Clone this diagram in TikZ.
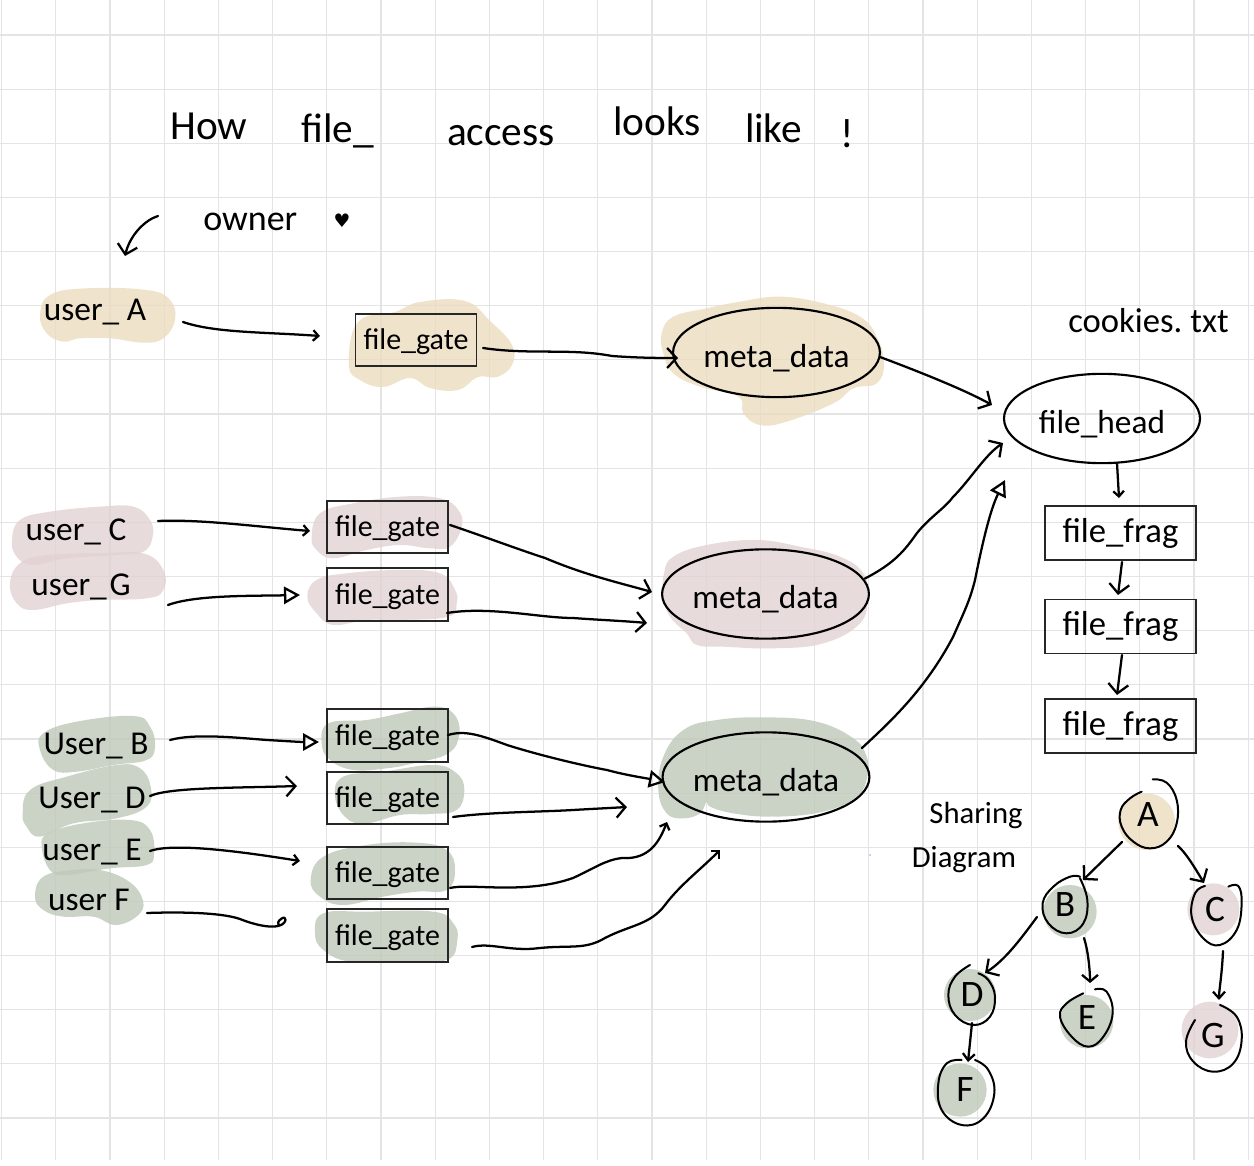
\documentclass[tikz,border=0pt]{standalone}
\usepackage{fontspec}
\setmainfont{Carlito}
\newfontfamily\symfont{DejaVu Sans}
\usetikzlibrary{arrows.meta,calc,shapes.geometric}
\newcommand\fsz[1]{\fontsize{#1}{#1}\selectfont}
\definecolor{tanb}{RGB}{235,220,192}
\definecolor{pinkb}{RGB}{226,210,211}
\definecolor{greenb}{RGB}{191,201,186}
\definecolor{gridc}{RGB}{228,228,228}
\tikzset{
  tanblob/.style={fill=tanb,fill opacity=.8},
  pinkblob/.style={fill=pinkb,fill opacity=.8},
  greenblob/.style={fill=greenb,fill opacity=.8},
  gridline/.style={draw=gridc,line width=.9pt},
  txt/.style={inner sep=0pt,text=black},
  userlabel/.style={txt,font=\fsz{25}},
  gatebox/.style={draw=black!85,line width=1.3pt,rectangle,minimum width=90.75pt,minimum height=39.4pt,inner sep=0pt,text height=20pt,text depth=5.5pt,font=\fsz{22.5}},
  fragbox/.style={draw=black!85,line width=1.4pt,rectangle,minimum width=113.25pt,minimum height=40.5pt,inner sep=0pt,font=\fsz{26}},
  metaoval/.style={draw=black,line width=1.6pt,ellipse,minimum width=151pt,minimum height=67pt,inner sep=0pt,text height=25pt,text depth=3pt,font=\fsz{25}},
  treeletter/.style={txt,font=\fsz{28}},
  hand/.style={draw=black,line width=1.7pt,line cap=round,line join=round},
  ring/.style={hand,line width=1.5pt},
  barb/.style={hand,-{Straight Barb[length=7pt,width=15pt]}},
  tinybarb/.style={hand,-{Straight Barb[length=4pt,width=8pt]}},
  tri/.style={hand,-{Triangle[open,length=12pt,width=13pt]}},
}
\newcommand\blobz[2]{\path[#1] plot[smooth cycle,tension=.7] coordinates {#2};}
\newcommand\ringz[1]{\draw[ring] plot[smooth,tension=.7] coordinates {#1};}
\begin{document}
\begin{tikzpicture}[x=.75pt,y=-.75pt]
\useasboundingbox (0,0) rectangle (1254,1166);
\fill[white] (0,0) rectangle (1254,1166);
% grid
\foreach \k in {0,...,23} {\draw[gridline] ({1.5+54.2*\k},0) -- ({1.5+54.2*\k},1160);}
\foreach \k in {0,...,20} {\draw[gridline] (0,{35+54.15*\k}) -- (1254,{35+54.15*\k});}
\fill[blue!40] (870,855) circle (.8);
% blobs, real coordinates
\blobz{tanblob}{(349,365) (358,322) (395,312) (420,302) (465,301) (490,321) (512,345) (512,365) (497,377) (478,377) (458,390) (430,388) (410,378) (383,387) (360,380)}
\begin{scope}[x=.25pt,y=-.25pt]
\blobz{tanblob}{(120,945) (150,885) (260,865) (440,870) (510,900) (525,960) (490,1015) (430,1028) (330,1015) (240,1015) (190,1025) (140,1000)}
\end{scope}
\begin{scope}[shift={(440,280)},x=.25pt,y=-.25pt]
\blobz{tanblob}{(665,160) (700,110) (800,85) (900,65) (1020,50) (1150,70) (1260,110) (1310,170) (1332,250) (1310,310) (1240,325) (1180,370) (1040,425) (960,435) (910,400) (895,350) (780,320) (700,280) (670,220)}
\blobz{pinkblob}{(672,880) (700,830) (800,795) (950,780) (1080,800) (1200,830) (1270,880) (1282,950) (1260,1030) (1150,1090) (1000,1105) (850,1100) (770,1095) (740,1060) (690,1010) (670,950)}
\end{scope}
\begin{scope}[shift={(0,470)},x=.25pt,y=-.25pt]
\blobz{pinkblob}{(36,210) (60,150) (150,125) (300,110) (400,110) (450,150) (458,200) (430,245) (350,255) (200,265) (100,285) (50,260)}
\blobz{pinkblob}{(30,340) (60,280) (140,255) (300,250) (430,250) (490,300) (490,360) (440,385) (300,390) (200,400) (100,420) (50,400)}
\blobz{pinkblob}{(935,200) (960,130) (1060,100) (1200,80) (1320,85) (1375,120) (1385,170) (1350,230) (1290,235) (1200,225) (1100,240) (1000,265) (950,240)}
\blobz{pinkblob}{(922,380) (950,330) (1040,310) (1200,300) (1320,310) (1365,360) (1370,400) (1345,440) (1200,450) (1100,450) (1000,465) (950,430)}
\end{scope}
\begin{scope}[shift={(0,690)},x=.25pt,y=-.25pt]
\blobz{greenblob}{(120,180) (130,130) (230,95) (400,78) (450,110) (465,170) (440,210) (340,225) (230,245) (160,240)}
\blobz{greenblob}{(68,370) (90,300) (200,260) (350,225) (420,235) (452,290) (440,350) (350,385) (220,400) (120,440) (80,410)}
\blobz{greenblob}{(125,470) (145,430) (250,400) (390,390) (450,420) (462,490) (440,525) (330,535) (200,555) (150,540)}
\blobz{greenblob}{(105,620) (130,560) (220,540) (300,540) (380,570) (425,620) (420,670) (350,705) (280,680) (190,680) (130,660)}
\blobz{greenblob}{(965,160) (985,100) (1100,90) (1200,70) (1300,50) (1360,70) (1378,130) (1345,190) (1240,220) (1160,235) (1060,240) (990,210)}
\blobz{greenblob}{(1005,320) (1030,260) (1150,245) (1300,225) (1370,250) (1393,300) (1370,360) (1290,372) (1200,375) (1100,400) (1040,385)}
\blobz{greenblob}{(932,570) (970,500) (1100,465) (1250,458) (1340,480) (1365,540) (1340,600) (1250,605) (1150,620) (1030,645) (960,620)}
\blobz{greenblob}{(945,730) (970,670) (1100,665) (1300,665) (1360,700) (1372,750) (1340,810) (1200,815) (1050,815) (970,780)}
\end{scope}
\begin{scope}[shift={(440,680)},x=.25pt,y=-.25pt]
\blobz{greenblob}{(655,330) (670,230) (730,150) (830,120) (980,112) (1130,125) (1240,175) (1280,230) (1282,290) (1250,350) (1150,395) (1000,410) (880,400) (810,380) (800,365) (780,400) (730,415) (680,400)}
\end{scope}
\begin{scope}[shift={(880,760)},x=.25pt,y=-.25pt]
\fill[tanblob] (800,185) circle (85);
\fill[greenblob] (570,455) circle (80);
\fill[pinkblob] (1000,448) circle (78);
\fill[greenblob] (270,705) circle (78);
\fill[greenblob] (620,785) circle (80);
\fill[greenblob] (240,990) circle (80);
\fill[pinkblob] (990,810) circle (85);
\ringz{(818,58) (860,68) (890,120) (890,190) (860,245) (810,265) (760,245) (725,200) (722,150) (750,115) (785,95)}
\ringz{(600,350) (570,350) (520,380) (488,430) (505,490) (560,520) (610,490) (622,420) (600,355)}
\ringz{(1045,380) (1075,378) (1085,430) (1070,510) (1020,555) (970,535) (935,470) (945,400) (975,378)}
\ringz{(270,615) (225,650) (205,705) (225,765) (280,795) (330,770) (345,710) (325,660) (295,640)}
\ringz{(645,688) (680,695) (698,760) (670,830) (625,860) (575,830) (540,770) (560,730) (610,700)}
\ringz{(245,900) (200,910) (175,970) (185,1050) (245,1095) (310,1075) (343,1000) (325,930) (285,900)}
\ringz{(1020,735) (1070,770) (1085,840) (1060,910) (1000,935) (940,905) (918,845) (945,780)}
\end{scope}
% title and notes
\node[txt,anchor=base west,font=\fsz{31}] (title) at (170,140) {How\hspace{40.5pt}\raisebox{-2pt}{file\_}\hspace{55pt}\raisebox{-4pt}{access}\hspace{44pt}\raisebox{3pt}{looks}\hspace{33pt}\raisebox{-2pt}{like}\hspace{29pt}\raisebox{-6pt}{!}};
\node[txt,anchor=base west,font=\fsz{27}] (owner) at (203,231) {owner};
\node[txt,font=\symfont\fsz{14}] (heart) at (342,221) {♥};
\node[txt,anchor=base west,font=\fsz{26}] (cookies) at (1068,333) {cookies.\hspace{6pt}txt};
\node[txt,font=\fsz{23}] (sharing) at (976,815) {Sharing};
\node[txt,font=\fsz{23}] (diagram) at (964,860) {Diagram};
% users
\node[userlabel] (uA) at (95,312) {user\_ A};
\node[userlabel] (uC) at (76,532) {user\_ C};
\node[userlabel] (uG) at (81,587) {user\_\hspace{2pt}G};
\node[userlabel] (uB) at (96,746) {User\_ B};
\node[userlabel] (uD) at (92,800) {User\_ D};
\node[userlabel] (uE) at (92,852) {user\_ E};
\node[userlabel] (uF) at (89,900) {user F};
% gates
\node[gatebox] (gA) at (416,340) {file\_gate};
\node[gatebox] (gC) at (387.5,527) {file\_gate};
\node[gatebox] (gG) at (387.5,594.5) {file\_gate};
\node[gatebox] (gB) at (387.5,735.5) {file\_gate};
\node[gatebox] (gD) at (387.5,798) {file\_gate};
\node[gatebox] (gE) at (387.5,873) {file\_gate};
\node[gatebox] (gF) at (387.5,935.5) {file\_gate};
% meta
\node[metaoval] (mA) at (776.5,352.5) {meta\_data};
\node[metaoval] (mC) at (765.5,594) {meta\_data};
\node[metaoval] (mB) at (766,777) {meta\_data};
\node[metaoval,minimum width=147pt] (head) at (1102,418.5) {file\_head};
\node[fragbox] (f1) at (1120.5,533) {file\_frag};
\node[fragbox] (f2) at (1120.5,626.5) {file\_frag};
\node[fragbox] (f3) at (1120.5,726) {file\_frag};
% tree letters
\node[treeletter] (TA) at (1148,815) {A};
\node[treeletter] (TB) at (1065,905) {B};
\node[treeletter] (TC) at (1215,910) {C};
\node[treeletter] (TD) at (972,995) {D};
\node[treeletter] (TE) at (1087,1018) {E};
\node[treeletter] (TF) at (965,1090) {F};
\node[treeletter] (TG) at (1213,1036) {G};
% owner arrow
\coordinate (oa) at (158,216);
\coordinate (ob) at (125,256);
\draw[barb] (oa) .. controls (145,220) and (130,235) .. (ob);
% connectors
\draw[tinybarb] ($(uA)+(88,10)$) .. controls (215,333) and (265,332) .. ($(gA)+(-96,-4)$);
\draw[barb] ($(gA)+(67,8)$) .. controls (530,355) and (570,348) .. (612,356) .. controls (640,358) and (660,358) .. ($(mA)+(-98.5,5.5)$);
\draw[barb] ($(mA)+(103.5,4.5)$) .. controls (920,372) and (965,390) .. ($(head)+(-110,-13.5)$);
\draw[tinybarb] ($(uC)+(82,-11)$) .. controls (200,519) and (260,527) .. ($(gC)+(-77.5,4)$);
\draw[tri] ($(uG)+(87,18)$) .. controls (195,595) and (250,596) .. ($(gG)+(-87.5,.5)$);
\draw[barb] ($(gC)+(62.5,-2)$) .. controls (480,535) and (520,550) .. (545,558) .. controls (585,575) and (620,583) .. ($(mC)+(-113.5,-2)$);
\draw[barb] ($(gG)+(59.5,18.5)$) .. controls (490,606) and (540,618) .. (573,618) .. controls (600,620) and (625,621) .. ($(mC)+(-118.5,29)$);
\draw[barb] ($(mC)+(99.5,-15.5)$) .. controls (895,563) and (905,550) .. (917,533) .. controls (930,517) and (945,508) .. (953,497) .. controls (970,480) and (985,455) .. ($(head)+(-99,24.5)$);
\draw[tri] ($(mB)+(96,-29)$) .. controls (890,722) and (925,690) .. (953,637) .. controls (965,610) and (970,600) .. (975,580) .. controls (982,545) and (990,510) .. ($(head)+(-97,61.5)$);
\draw[tri] ($(uB)+(74,-6)$) .. controls (195,733) and (240,738) .. (267,740) .. controls (285,741) and (300,742) .. ($(gB)+(-68.5,6.5)$);
\draw[barb] ($(uD)+(58,-4)$) .. controls (170,787) and (240,788) .. ($(gD)+(-90.5,-12)$);
\draw[tinybarb] ($(uE)+(58,-1)$) .. controls (175,842) and (250,853) .. ($(gE)+(-87.5,-12)$);
\draw[hand] ($(uF)+(58,13)$) .. controls (175,912) and (220,912) .. (240,919) .. controls (255,925) and (270,928) .. (278,926) .. controls (288,924) and (287,914) .. (281,919) .. controls (278,921) and (277,924) .. ($(gF)+(-108.5,-9.5)$);
\draw[tri] ($(gB)+(60.5,-.5)$) .. controls (465,730) and (480,735) .. (507,745) .. controls (545,757) and (590,767) .. (607,770) .. controls (625,775) and (645,778) .. ($(mB)+(-101,5)$);
\draw[barb] ($(gD)+(65.5,19)$) .. controls (490,812) and (540,812) .. (573,810) .. controls (590,809) and (610,808) .. ($(mB)+(-139,30)$);
\draw[tinybarb] ($(gE)+(62.5,15)$) .. controls (470,883) and (525,895) .. (573,878) .. controls (595,868) and (605,860) .. (622,858) .. controls (650,860) and (660,840) .. ($(mB)+(-99,45)$);
\draw[tinybarb] ($(gF)+(84.5,11.5)$) .. controls (490,942) and (510,952) .. (540,948) .. controls (570,945) and (585,950) .. (605,938) .. controls (630,925) and (650,925) .. (665,905) .. controls (680,885) and (700,870) .. ($(mB)+(-46,73)$);
\draw[tinybarb] ($(head)+(15,44.5)$) -- ($(f1)+(-1.5,-35)$);
\draw[barb] ($(f1)+(1.5,29)$) -- ($(f2)+(-2.5,-31.5)$);
\draw[barb] ($(f2)+(1.5,28.5)$) -- ($(f3)+(-3.5,-31)$);
% tree edges
\draw[barb] ($(TA)+(-26,27)$) -- ($(TB)+(18,-25)$);
\draw[barb] ($(TA)+(30,31)$) .. controls (1186,853) and (1195,868) .. ($(TC)+(-11,-27)$);
\draw[barb] ($(TB)+(-28,12)$) .. controls (1020,940) and (1005,960) .. ($(TD)+(13,-22)$);
\draw[barb,-{Straight Barb[length=5pt,width=12pt]}] ($(TB)+(19,33)$) .. controls (1088,950) and (1090,970) .. ($(TE)+(3,-35)$);
\draw[hand,-{Straight Barb[length=5pt,width=9pt]}] ($(TC)+(8,41)$) .. controls (1222,975) and (1219,990) .. ($(TG)+(6,-36)$);
\draw[hand,-{Straight Barb[length=5pt,width=9pt]}] ($(TD)+(0,28)$) -- ($(TF)+(3,-28)$);
\end{tikzpicture}
\end{document}
